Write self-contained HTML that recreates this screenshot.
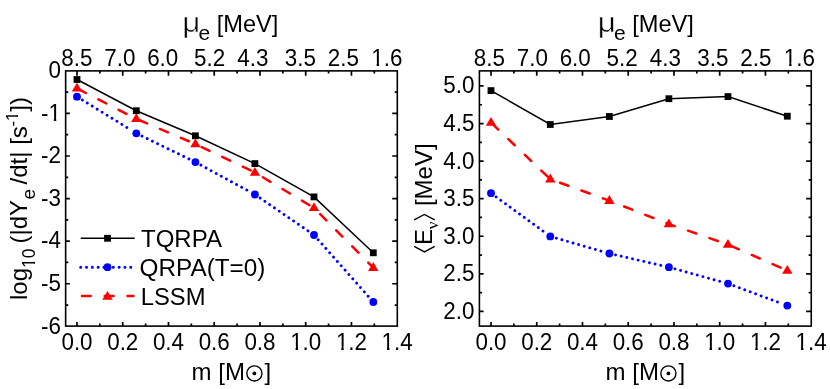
<!DOCTYPE html>
<html><head><meta charset="utf-8"><title>chart</title>
<style>html,body{margin:0;padding:0;background:#fff;}body{width:830px;height:389px;overflow:hidden;font-family:"Liberation Sans", sans-serif;}svg{display:block;will-change:transform;}</style>
</head><body>
<svg width="830" height="389" viewBox="0 0 830 389" font-family='"Liberation Sans", sans-serif' fill="#000">
<rect width="830" height="389" fill="#fff"/>
<path d="M82.36 100.01L126.81 127.44M141.96 136.06L188.92 158.94M200.93 165.11L246.80 190.09M260.10 198.06L307.97 230.86M318.18 239.72L368.17 296.20" fill="none" stroke="#0000ff" stroke-width="2.9" stroke-linecap="round" stroke-dasharray="0.01 5.79"/>
<polyline points="77.00,88.40 136.30,118.90 195.40,144.00 254.90,172.50 314.00,207.90 373.30,267.70" fill="none" stroke="#ff0000" stroke-width="2.5" stroke-linecap="round" stroke-dasharray="8.80 13.97" stroke-dashoffset="-1.25"/>
<polyline points="77.00,79.50 136.30,110.70 195.40,135.80 254.90,163.60 314.00,196.90 373.30,252.80" fill="none" stroke="#000" stroke-width="1.5"/>
<circle cx="77.00" cy="96.70" r="3.9" fill="#0000ff"/>
<circle cx="136.30" cy="133.30" r="3.9" fill="#0000ff"/>
<circle cx="195.40" cy="162.10" r="3.9" fill="#0000ff"/>
<circle cx="254.90" cy="194.50" r="3.9" fill="#0000ff"/>
<circle cx="314.00" cy="235.00" r="3.9" fill="#0000ff"/>
<circle cx="373.30" cy="302.00" r="3.9" fill="#0000ff"/>
<path d="M77.00 82.80L82.20 91.60H71.80Z" fill="#ff0000"/>
<path d="M136.30 113.30L141.50 122.10H131.10Z" fill="#ff0000"/>
<path d="M195.40 138.40L200.60 147.20H190.20Z" fill="#ff0000"/>
<path d="M254.90 166.90L260.10 175.70H249.70Z" fill="#ff0000"/>
<path d="M314.00 202.30L319.20 211.10H308.80Z" fill="#ff0000"/>
<path d="M373.30 262.10L378.50 270.90H368.10Z" fill="#ff0000"/>
<rect x="73.60" y="76.10" width="6.8" height="6.8" fill="#000"/>
<rect x="132.90" y="107.30" width="6.8" height="6.8" fill="#000"/>
<rect x="192.00" y="132.40" width="6.8" height="6.8" fill="#000"/>
<rect x="251.50" y="160.20" width="6.8" height="6.8" fill="#000"/>
<rect x="310.60" y="193.50" width="6.8" height="6.8" fill="#000"/>
<rect x="369.90" y="249.40" width="6.8" height="6.8" fill="#000"/>
<rect x="65.65" y="70.88" width="331.65" height="255.22000000000003" fill="none" stroke="#000" stroke-width="1.6"/>
<path d="M77.00 326.10v-4.20M77.00 70.88v4.95M99.87 326.10v-2.60M99.87 70.88v2.60M122.74 326.10v-4.20M122.74 70.88v4.95M145.61 326.10v-2.60M145.61 70.88v2.60M168.48 326.10v-4.20M168.48 70.88v4.95M191.35 326.10v-2.60M191.35 70.88v2.60M214.22 326.10v-4.20M214.22 70.88v4.95M237.09 326.10v-2.60M237.09 70.88v2.60M259.96 326.10v-4.20M259.96 70.88v4.95M282.83 326.10v-2.60M282.83 70.88v2.60M305.70 326.10v-4.20M305.70 70.88v4.95M328.57 326.10v-2.60M328.57 70.88v2.60M351.44 326.10v-4.20M351.44 70.88v4.95M374.31 326.10v-2.60M374.31 70.88v2.60" stroke="#000" stroke-width="1.7" fill="none"/>
<path d="M65.65 113.43h4.20M397.30 113.43h-5.10M65.65 156.01h4.20M397.30 156.01h-5.10M65.65 198.59h4.20M397.30 198.59h-5.10M65.65 241.17h4.20M397.30 241.17h-5.10M65.65 283.75h4.20M397.30 283.75h-5.10M65.65 92.14h2.60M397.30 92.14h-2.60M65.65 134.72h2.60M397.30 134.72h-2.60M65.65 177.30h2.60M397.30 177.30h-2.60M65.65 219.88h2.60M397.30 219.88h-2.60M65.65 262.46h2.60M397.30 262.46h-2.60M65.65 305.04h2.60M397.30 305.04h-2.60" stroke="#000" stroke-width="1.7" fill="none"/>
<g transform="translate(77.00 349.50) scale(0.922 1)"><text font-size="24.3" text-anchor="middle" >0.0</text></g>
<g transform="translate(122.74 349.50) scale(0.922 1)"><text font-size="24.3" text-anchor="middle" >0.2</text></g>
<g transform="translate(168.48 349.50) scale(0.922 1)"><text font-size="24.3" text-anchor="middle" >0.4</text></g>
<g transform="translate(214.22 349.50) scale(0.922 1)"><text font-size="24.3" text-anchor="middle" >0.6</text></g>
<g transform="translate(259.96 349.50) scale(0.922 1)"><text font-size="24.3" text-anchor="middle" >0.8</text></g>
<g transform="translate(305.70 349.50) scale(0.922 1)"><text font-size="24.3" text-anchor="middle" >1.0</text><rect x="-15.67" y="-3.16" width="4.62" height="4.86" fill="#fff"/><rect x="-8.36" y="-3.16" width="4.37" height="4.86" fill="#fff"/></g>
<g transform="translate(351.44 349.50) scale(0.922 1)"><text font-size="24.3" text-anchor="middle" >1.2</text><rect x="-15.67" y="-3.16" width="4.62" height="4.86" fill="#fff"/><rect x="-8.36" y="-3.16" width="4.37" height="4.86" fill="#fff"/></g>
<g transform="translate(397.18 349.50) scale(0.922 1)"><text font-size="24.3" text-anchor="middle" >1.4</text><rect x="-15.67" y="-3.16" width="4.62" height="4.86" fill="#fff"/><rect x="-8.36" y="-3.16" width="4.37" height="4.86" fill="#fff"/></g>
<g transform="translate(76.80 65.50) scale(0.922 1)"><text font-size="24.3" text-anchor="middle" >8.5</text></g>
<g transform="translate(119.80 65.50) scale(0.922 1)"><text font-size="24.3" text-anchor="middle" >7.0</text></g>
<g transform="translate(162.70 65.50) scale(0.922 1)"><text font-size="24.3" text-anchor="middle" >6.0</text></g>
<g transform="translate(209.60 65.50) scale(0.922 1)"><text font-size="24.3" text-anchor="middle" >5.2</text></g>
<g transform="translate(252.80 65.50) scale(0.922 1)"><text font-size="24.3" text-anchor="middle" >4.3</text></g>
<g transform="translate(300.40 65.50) scale(0.922 1)"><text font-size="24.3" text-anchor="middle" >3.5</text></g>
<g transform="translate(343.40 65.50) scale(0.922 1)"><text font-size="24.3" text-anchor="middle" >2.5</text></g>
<g transform="translate(386.80 65.50) scale(0.922 1)"><text font-size="24.3" text-anchor="middle" >1.6</text><rect x="-15.67" y="-3.16" width="4.62" height="4.86" fill="#fff"/><rect x="-8.36" y="-3.16" width="4.37" height="4.86" fill="#fff"/></g>
<text x="191.60" y="379.5" font-size="24" text-anchor="start">m [M</text>
<circle cx="254.40" cy="373.4" r="7.55" fill="none" stroke="#000" stroke-width="1.4"/>
<circle cx="254.40" cy="373.4" r="1.9" fill="#000"/>
<text x="264.40" y="379.5" font-size="24" text-anchor="start">]</text>
<text transform="translate(182.20 32.4) scale(1.12 1)" font-size="28" stroke="#fff" stroke-width="0.45">μ</text>
<text x="198.50" y="40.1" font-size="21">e</text>
<text transform="translate(216.70 32.4) scale(0.985 1)" font-size="24">[MeV]</text>
<path d="M496.09 196.91L543.00 231.08M556.35 238.15L600.95 251.06M615.54 254.91L660.79 265.33M674.97 268.88L719.71 281.30M733.91 285.79L777.44 301.94" fill="none" stroke="#0000ff" stroke-width="2.9" stroke-linecap="round" stroke-dasharray="0.01 5.79"/>
<polyline points="491.00,122.60 550.30,179.20 609.40,200.70 668.90,224.10 728.00,244.50 787.30,270.60" fill="none" stroke="#ff0000" stroke-width="2.5" stroke-linecap="round" stroke-dasharray="8.80 13.97" stroke-dashoffset="-1.25"/>
<polyline points="491.00,90.60 550.30,124.50 609.40,116.50 668.90,98.70 728.00,96.60 787.30,116.20" fill="none" stroke="#000" stroke-width="1.5"/>
<circle cx="491.00" cy="193.20" r="3.9" fill="#0000ff"/>
<circle cx="550.30" cy="236.40" r="3.9" fill="#0000ff"/>
<circle cx="609.40" cy="253.50" r="3.9" fill="#0000ff"/>
<circle cx="668.90" cy="267.20" r="3.9" fill="#0000ff"/>
<circle cx="728.00" cy="283.60" r="3.9" fill="#0000ff"/>
<circle cx="787.30" cy="305.60" r="3.9" fill="#0000ff"/>
<path d="M491.00 117.00L496.20 125.80H485.80Z" fill="#ff0000"/>
<path d="M550.30 173.60L555.50 182.40H545.10Z" fill="#ff0000"/>
<path d="M609.40 195.10L614.60 203.90H604.20Z" fill="#ff0000"/>
<path d="M668.90 218.50L674.10 227.30H663.70Z" fill="#ff0000"/>
<path d="M728.00 238.90L733.20 247.70H722.80Z" fill="#ff0000"/>
<path d="M787.30 265.00L792.50 273.80H782.10Z" fill="#ff0000"/>
<rect x="487.60" y="87.20" width="6.8" height="6.8" fill="#000"/>
<rect x="546.90" y="121.10" width="6.8" height="6.8" fill="#000"/>
<rect x="606.00" y="113.10" width="6.8" height="6.8" fill="#000"/>
<rect x="665.50" y="95.30" width="6.8" height="6.8" fill="#000"/>
<rect x="724.60" y="93.20" width="6.8" height="6.8" fill="#000"/>
<rect x="783.90" y="112.80" width="6.8" height="6.8" fill="#000"/>
<rect x="479.4" y="70.88" width="331.85" height="255.22000000000003" fill="none" stroke="#000" stroke-width="1.6"/>
<path d="M491.00 326.10v-4.20M491.00 70.88v4.95M513.87 326.10v-2.60M513.87 70.88v2.60M536.74 326.10v-4.20M536.74 70.88v4.95M559.61 326.10v-2.60M559.61 70.88v2.60M582.48 326.10v-4.20M582.48 70.88v4.95M605.35 326.10v-2.60M605.35 70.88v2.60M628.22 326.10v-4.20M628.22 70.88v4.95M651.09 326.10v-2.60M651.09 70.88v2.60M673.96 326.10v-4.20M673.96 70.88v4.95M696.83 326.10v-2.60M696.83 70.88v2.60M719.70 326.10v-4.20M719.70 70.88v4.95M742.57 326.10v-2.60M742.57 70.88v2.60M765.44 326.10v-4.20M765.44 70.88v4.95M788.31 326.10v-2.60M788.31 70.88v2.60" stroke="#000" stroke-width="1.7" fill="none"/>
<path d="M479.40 85.95h4.20M811.25 85.95h-5.10M479.40 123.53h4.20M811.25 123.53h-5.10M479.40 161.10h4.20M811.25 161.10h-5.10M479.40 198.68h4.20M811.25 198.68h-5.10M479.40 236.25h4.20M811.25 236.25h-5.10M479.40 273.82h4.20M811.25 273.82h-5.10M479.40 311.40h4.20M811.25 311.40h-5.10M479.40 104.74h2.60M811.25 104.74h-2.60M479.40 142.31h2.60M811.25 142.31h-2.60M479.40 179.89h2.60M811.25 179.89h-2.60M479.40 217.46h2.60M811.25 217.46h-2.60M479.40 255.04h2.60M811.25 255.04h-2.60M479.40 292.61h2.60M811.25 292.61h-2.60" stroke="#000" stroke-width="1.7" fill="none"/>
<g transform="translate(491.00 349.50) scale(0.922 1)"><text font-size="24.3" text-anchor="middle" >0.0</text></g>
<g transform="translate(536.74 349.50) scale(0.922 1)"><text font-size="24.3" text-anchor="middle" >0.2</text></g>
<g transform="translate(582.48 349.50) scale(0.922 1)"><text font-size="24.3" text-anchor="middle" >0.4</text></g>
<g transform="translate(628.22 349.50) scale(0.922 1)"><text font-size="24.3" text-anchor="middle" >0.6</text></g>
<g transform="translate(673.96 349.50) scale(0.922 1)"><text font-size="24.3" text-anchor="middle" >0.8</text></g>
<g transform="translate(719.70 349.50) scale(0.922 1)"><text font-size="24.3" text-anchor="middle" >1.0</text><rect x="-15.67" y="-3.16" width="4.62" height="4.86" fill="#fff"/><rect x="-8.36" y="-3.16" width="4.37" height="4.86" fill="#fff"/></g>
<g transform="translate(765.44 349.50) scale(0.922 1)"><text font-size="24.3" text-anchor="middle" >1.2</text><rect x="-15.67" y="-3.16" width="4.62" height="4.86" fill="#fff"/><rect x="-8.36" y="-3.16" width="4.37" height="4.86" fill="#fff"/></g>
<g transform="translate(811.18 349.50) scale(0.922 1)"><text font-size="24.3" text-anchor="middle" >1.4</text><rect x="-15.67" y="-3.16" width="4.62" height="4.86" fill="#fff"/><rect x="-8.36" y="-3.16" width="4.37" height="4.86" fill="#fff"/></g>
<g transform="translate(489.30 65.50) scale(0.922 1)"><text font-size="24.3" text-anchor="middle" >8.5</text></g>
<g transform="translate(532.30 65.50) scale(0.922 1)"><text font-size="24.3" text-anchor="middle" >7.0</text></g>
<g transform="translate(575.20 65.50) scale(0.922 1)"><text font-size="24.3" text-anchor="middle" >6.0</text></g>
<g transform="translate(622.10 65.50) scale(0.922 1)"><text font-size="24.3" text-anchor="middle" >5.2</text></g>
<g transform="translate(665.30 65.50) scale(0.922 1)"><text font-size="24.3" text-anchor="middle" >4.3</text></g>
<g transform="translate(712.90 65.50) scale(0.922 1)"><text font-size="24.3" text-anchor="middle" >3.5</text></g>
<g transform="translate(755.90 65.50) scale(0.922 1)"><text font-size="24.3" text-anchor="middle" >2.5</text></g>
<g transform="translate(799.30 65.50) scale(0.922 1)"><text font-size="24.3" text-anchor="middle" >1.6</text><rect x="-15.67" y="-3.16" width="4.62" height="4.86" fill="#fff"/><rect x="-8.36" y="-3.16" width="4.37" height="4.86" fill="#fff"/></g>
<text x="605.60" y="379.5" font-size="24" text-anchor="start">m [M</text>
<circle cx="668.40" cy="373.4" r="7.55" fill="none" stroke="#000" stroke-width="1.4"/>
<circle cx="668.40" cy="373.4" r="1.9" fill="#000"/>
<text x="678.40" y="379.5" font-size="24" text-anchor="start">]</text>
<text transform="translate(597.70 32.4) scale(1.12 1)" font-size="28" stroke="#fff" stroke-width="0.45">μ</text>
<text x="614.00" y="40.1" font-size="21">e</text>
<text transform="translate(632.20 32.4) scale(0.985 1)" font-size="24">[MeV]</text>
<g transform="translate(60.90 78.15) scale(0.922 1)"><text font-size="24.3" text-anchor="end" >0</text></g>
<g transform="translate(60.90 120.73) scale(0.922 1)"><text font-size="24.3" text-anchor="end" >-1</text><rect x="-12.30" y="-3.16" width="4.62" height="4.86" fill="#fff"/><rect x="-4.98" y="-3.16" width="4.37" height="4.86" fill="#fff"/></g>
<g transform="translate(60.90 163.31) scale(0.922 1)"><text font-size="24.3" text-anchor="end" >-2</text></g>
<g transform="translate(60.90 205.89) scale(0.922 1)"><text font-size="24.3" text-anchor="end" >-3</text></g>
<g transform="translate(60.90 248.47) scale(0.922 1)"><text font-size="24.3" text-anchor="end" >-4</text></g>
<g transform="translate(60.90 291.05) scale(0.922 1)"><text font-size="24.3" text-anchor="end" >-5</text></g>
<g transform="translate(60.90 333.63) scale(0.922 1)"><text font-size="24.3" text-anchor="end" >-6</text></g>
<g transform="translate(474.50 93.35) scale(0.922 1)"><text font-size="24.3" text-anchor="end" >5.0</text></g>
<g transform="translate(474.50 130.93) scale(0.922 1)"><text font-size="24.3" text-anchor="end" >4.5</text></g>
<g transform="translate(474.50 168.50) scale(0.922 1)"><text font-size="24.3" text-anchor="end" >4.0</text></g>
<g transform="translate(474.50 206.08) scale(0.922 1)"><text font-size="24.3" text-anchor="end" >3.5</text></g>
<g transform="translate(474.50 243.65) scale(0.922 1)"><text font-size="24.3" text-anchor="end" >3.0</text></g>
<g transform="translate(474.50 281.22) scale(0.922 1)"><text font-size="24.3" text-anchor="end" >2.5</text></g>
<g transform="translate(474.50 318.80) scale(0.922 1)"><text font-size="24.3" text-anchor="end" >2.0</text></g>
<g transform="translate(27.00 300.00) rotate(-90)"><text font-size="24" text-anchor="start" style="white-space:pre">log</text></g>
<g transform="translate(35.00 268.00) rotate(-90)"><text font-size="17.5" text-anchor="start" style="white-space:pre">10</text><rect x="0.88" y="-2.27" width="3.33" height="3.50" fill="#fff"/><rect x="6.14" y="-2.27" width="3.15" height="3.50" fill="#fff"/></g>
<g transform="translate(27.00 243.50) rotate(-90)"><text font-size="24" text-anchor="start" style="white-space:pre">(|dY</text></g>
<g transform="translate(35.00 199.60) rotate(-90)"><text font-size="19.0" text-anchor="start" style="white-space:pre">e</text></g>
<g transform="translate(27.00 191.10) rotate(-90)"><text font-size="24" text-anchor="start" style="white-space:pre"> /dt| [s</text></g>
<g transform="translate(18.40 126.60) rotate(-90)"><text font-size="16.8" text-anchor="start" style="white-space:pre">-1</text><rect x="6.43" y="-2.18" width="3.19" height="3.36" fill="#fff"/><rect x="11.49" y="-2.18" width="3.02" height="3.36" fill="#fff"/></g>
<g transform="translate(27.00 111.70) rotate(-90)"><text font-size="24" text-anchor="start" style="white-space:pre">])</text></g>
<path d="M414.2 246.4L424.4 251.9L434.7 246.4M414.2 219.9L424.4 214.5L434.7 219.9" fill="none" stroke="#000" stroke-width="1.4"/>
<g transform="translate(431.60 245.10) rotate(-90)"><text font-size="24" text-anchor="start" style="white-space:pre">E</text></g>
<g transform="translate(437.90 229.30) rotate(-90)"><text font-size="17" font-family='"Liberation Serif", serif' text-anchor="start" style="white-space:pre">ν</text></g>
<g transform="translate(431.60 206.10) rotate(-90)"><text font-size="24" text-anchor="start" style="white-space:pre">[MeV]</text></g>
<path d="M80.7 238.3H134.7" stroke="#000" stroke-width="1.5"/>
<rect x="104.10" y="234.90" width="6.8" height="6.8" fill="#000"/>
<path d="M80.7 267.2H107.5" stroke="#0000ff" stroke-width="3.0" stroke-linecap="round" stroke-dasharray="0.01 5.8"/>
<path d="M107.5 267.2H133.7" stroke="#0000ff" stroke-width="3.0" stroke-linecap="round" stroke-dasharray="0.01 5.8"/>
<circle cx="107.50" cy="267.20" r="3.9" fill="#0000ff"/>
<path d="M80.7 295.9H133.45" stroke="#ff0000" stroke-width="2.5" stroke-linecap="round" stroke-dasharray="8.80 13.97" stroke-dashoffset="-1.25"/>
<path d="M107.50 291.00L112.70 299.80H102.30Z" fill="#ff0000"/>
<g transform="translate(141.00 246.90) scale(1.0 1)"><text font-size="24" text-anchor="start" >TQRPA</text></g>
<g transform="translate(139.60 275.90) scale(1.013 1)"><text font-size="24" text-anchor="start" >QRPA(T=0)</text></g>
<g transform="translate(140.80 305.20) scale(0.99 1)"><text font-size="24" text-anchor="start" >LSSM</text></g>
</svg>
</body></html>
